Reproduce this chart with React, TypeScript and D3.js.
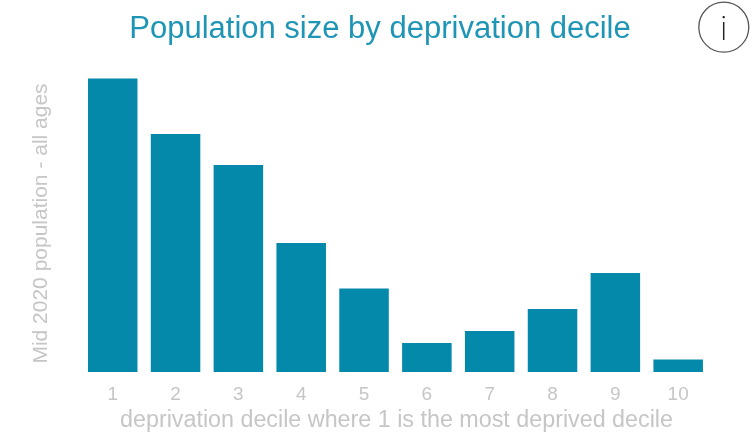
import { useEffect, useRef } from "react";
import * as d3 from "d3";

// no y axis in the source, so values are estimates from bar heights
const deciles = ["1", "2", "3", "4", "5", "6", "7", "8", "9", "10"];
const population = [29350, 23800, 20700, 12900, 8350, 2900, 4100, 6300, 9900, 1250];

const width = 756;
const height = 432;
const teal = "#0489ab";
const grey = "#c6c6c6";
const fontFamily = "'Liberation Sans', Arial, sans-serif";

export default function App() {
  const svgRef = useRef<SVGSVGElement | null>(null);

  useEffect(() => {
    const svg = d3.select(svgRef.current);
    svg.selectAll("*").remove();

    const x = d3
      .scaleBand<string>()
      .domain(deciles)
      .range([81.3, 709.6])
      .paddingInner(0.212)
      .paddingOuter(0.106);

    const y = d3
      .scaleLinear()
      .domain([0, d3.max(population)!])
      .range([372, 78.5]);

    svg.append("g")
      .selectAll("rect")
      .data(population)
      .join("rect")
      .attr("x", (_, i) => x(deciles[i])!)
      .attr("y", (d) => y(d))
      .attr("width", x.bandwidth())
      .attr("height", (d) => y(0) - y(d))
      .attr("fill", teal);

    const xAxis = svg.append("g")
      .attr("transform", "translate(0,372)")
      .call(d3.axisBottom(x).tickSize(0).tickPadding(15));
    xAxis.select(".domain").remove();
    xAxis.selectAll("text")
      .attr("fill", grey)
      .style("font-size", "19px")
      .style("font-family", fontFamily);

    svg.append("text")
      .attr("x", 380)
      .attr("y", 38)
      .attr("text-anchor", "middle")
      .style("font-size", "31px")
      .style("font-family", fontFamily)
      .attr("fill", "#1f95b6")
      .text("Population size by deprivation decile");

    svg.append("text")
      .attr("x", 396.5)
      .attr("y", 426.5)
      .attr("text-anchor", "middle")
      .style("font-size", "23.3px")
      .style("font-family", fontFamily)
      .attr("fill", grey)
      .text("deprivation decile where 1 is the most deprived decile");

    svg.append("text")
      .attr("transform", "translate(46.5,223.5) rotate(-90)")
      .attr("text-anchor", "middle")
      .style("font-size", "21px")
      .style("font-family", fontFamily)
      .attr("fill", grey)
      .text("Mid 2020 population - all ages");

    // info button
    svg.append("circle")
      .attr("cx", 723.8)
      .attr("cy", 27.2)
      .attr("r", 25)
      .attr("fill", "none")
      .attr("stroke", "#555")
      .attr("stroke-width", 1.3);
    svg.append("text")
      .attr("x", 723.8)
      .attr("y", 40)
      .attr("text-anchor", "middle")
      .style("font-size", "33px")
      .style("font-weight", 200)
      .style("font-family", "Inter, Roboto, sans-serif")
      .attr("fill", "#222")
      .text("i");
  }, []);

  return (
    <svg
      ref={svgRef}
      width={width}
      height={height}
      style={{ position: "absolute", left: 0, top: 0, filter: "blur(0.4px)" }}
    ></svg>
  );
}
